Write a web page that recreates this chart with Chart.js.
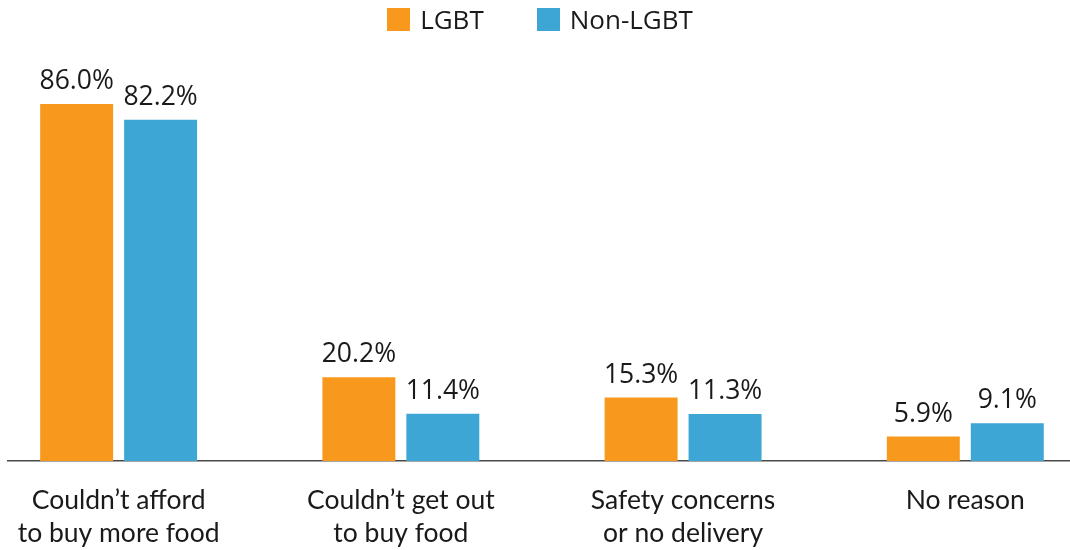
<!DOCTYPE html>
<html>
<head>
<meta charset="utf-8">
<script src="https://cdn.jsdelivr.net/npm/chart.js@4.4.0/dist/chart.umd.min.js"></script>
<style>
  html, body { margin: 0; padding: 0; background: #fff; }
  .wrap { position: relative; width: 1070px; height: 550px; }
  .wrap canvas { display: block; }
  .legend {
    position: absolute; top: 8px; left: 10px; width: 1060px;
    display: flex; justify-content: center; gap: 53px;
    font-family: "Open Sans", sans-serif; font-size: 26px; color: #1a1a1a;
  }
  .legend span { display: flex; align-items: center; line-height: 23px; }
  .legend i { display: inline-block; width: 23px; height: 23px; margin-right: 10px; }
</style>
</head>
<body>
<div class="wrap">
  <div class="legend" id="legend"></div>
  <canvas id="barChart" width="1070" height="550"></canvas>
</div>
<script>
// categories (two-line labels) and series values, percent
var categories = [
    ['Couldn\u2019t afford', 'to buy more food'],
    ['Couldn\u2019t get out', 'to buy food'],
    ['Safety concerns', 'or no delivery'],
    ['No reason']
];
var seriesNames = ['LGBT', 'Non-LGBT'];
var lgbtValues = [86.0, 20.2, 15.3, 5.9];
var nonLgbtValues = [82.2, 11.4, 11.3, 9.1];
var seriesColors = ['#F8991D', '#3DA6D4'];

// legend row
var legendEl = document.getElementById('legend');
seriesNames.forEach(function (name, i) {
    var item = document.createElement('span');
    var box = document.createElement('i');
    box.style.background = seriesColors[i];
    item.appendChild(box);
    item.appendChild(document.createTextNode(name));
    legendEl.appendChild(item);
});

// prints the percentage above each bar
var valueLabels = {
    id: 'valueLabels',
    afterDatasetsDraw: function (chart) {
        var ctx = chart.ctx;
        ctx.save();
        ctx.font = '26.5px "Open Sans", sans-serif';
        ctx.fillStyle = '#1a1a1a';
        ctx.textAlign = 'center';
        ctx.textBaseline = 'alphabetic';
        chart.data.datasets.forEach(function (ds, di) {
            chart.getDatasetMeta(di).data.forEach(function (bar, i) {
                ctx.fillText(ds.data[i].y.toFixed(1) + '%', bar.x, bar.y - 15);
            });
        });
        ctx.restore();
    }
};

function points(values) {
    return values.map(function (v, i) { return { x: i, y: v }; });
}

var ctx = document.getElementById('barChart').getContext('2d');
new Chart(ctx, {
    type: 'bar',
    data: {
        datasets: [{
            label: seriesNames[0],
            data: points(lgbtValues),
            backgroundColor: seriesColors[0]
        }, {
            label: seriesNames[1],
            data: points(nonLgbtValues),
            backgroundColor: seriesColors[1]
        }]
    },
    options: {
        responsive: false,
        animation: false,
        events: [],
        categoryPercentage: 0.595,
        barPercentage: 0.869,
        layout: { padding: { top: 46, left: 8, right: 0, bottom: 0 } },
        scales: {
            x: {
                type: 'linear',
                offset: false,
                min: -0.392,
                max: 3.371,
                afterBuildTicks: function (scale) {
                    scale.ticks = categories.map(function (c, i) { return { value: i }; });
                },
                afterFit: function (scale) {
                    // axis runs edge to edge, labels sit well inside it
                    scale.height = 89;
                    scale.paddingLeft = 0;
                    scale.paddingRight = 0;
                },
                grid: { display: false, drawTicks: false },
                border: { display: true, color: '#4a4a4a', width: 1.5 },
                ticks: {
                    autoSkip: false,
                    maxRotation: 0,
                    padding: 23,
                    color: '#1a1a1a',
                    font: { family: 'Lato', size: 26.5, lineHeight: 1.245 },
                    callback: function (value) { return categories[value]; }
                }
            },
            y: {
                display: false,
                min: 0,
                max: 100
            }
        },
        plugins: {
            legend: { display: false },
            tooltip: { enabled: false }
        }
    },
    plugins: [valueLabels]
});
</script>
</body>
</html>
